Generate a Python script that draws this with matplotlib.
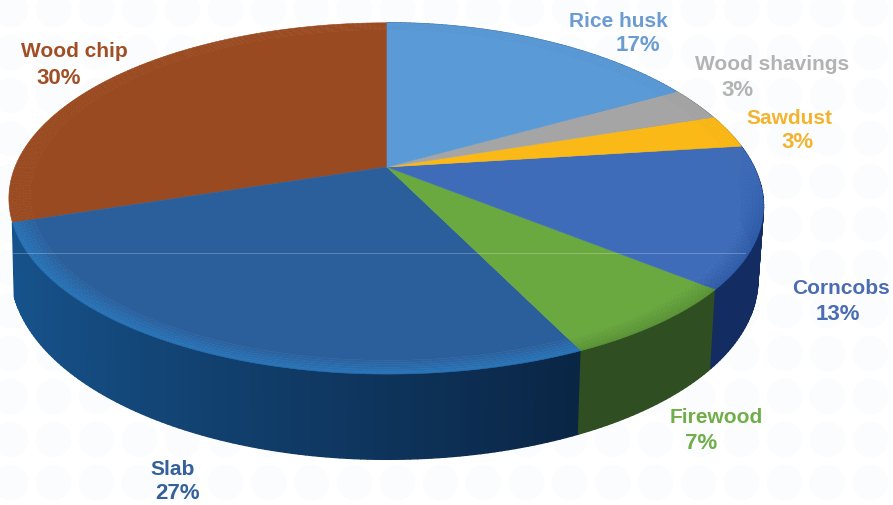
import numpy as np
import matplotlib
matplotlib.use('Agg')
import matplotlib.pyplot as plt
from matplotlib.collections import PolyCollection
from matplotlib.colors import to_rgb

# Slices, anticlockwise from the top of the disc
names = ['Wood chip', 'Slab', 'Firewood', 'Corncobs', 'Sawdust', 'Wood shavings', 'Rice husk']
shares = [30, 27, 7, 13, 3, 3, 17]
top_colors = ['#9a4a20', '#2a5f9c', '#6aa93f', '#3f6cb9', '#fbb917', '#a5a5a5', '#5a9ad6']
side_colors = ['#7a3a18', '#17558f', '#33541f', '#16306e', '#b0820f', '#707070', '#3a6a9c']
rim_colors = ['#9a4a20', '#2872b5', '#5a9436', '#2f5ca8', '#fbb917', '#a5a5a5', '#5a9ad6']
label_colors = ['#a04e24', '#34609c', '#6fae49', '#4a6cb4', '#f4b32e', '#b3b3b3', '#6a9cd2']
side_shade = [0, 0.85, 0.1, 0.2, 0, 0, 0]

# Label anchors in pixels: name line, then percentage line
name_pos = [(74, 51), (173, 470), (716, 418), (841, 288), (789, 118), (772, 64), (618, 21)]
pct_pos = [(59, 78), (178, 494), (701, 444), (838, 314), (797, 142), (737, 90), (638, 45)]

cx, cy = 387, 168
rx_left, rx_right = 372, 367
ry = 170
persp = 0.179
depth = 70
shear = 0.1

plt.rcParams['font.family'] = ['Liberation Sans', 'DejaVu Sans']

fig = plt.figure(figsize=(8.93, 5.06), dpi=100)
ax = fig.add_axes([0, 0, 1, 1])
ax.set_xlim(0, 893)
ax.set_ylim(506, 0)
ax.axis('off')


def project(theta, r=1.0, drop=0.0):
    # theta runs anticlockwise from the back of the disc
    u = -np.sin(theta) * r
    v = np.cos(theta) * r
    w = 1 + persp * v
    rx = np.where(u > 0, rx_right, rx_left)
    shrink = 1 - np.where(u > 0, 0.015, 0.005) * drop
    y = cy - ry * v / w
    # the right half leans over a little in the artwork
    x = cx + rx * u / w * shrink + shear * (y - cy) * np.maximum(u, 0)
    return x, y + drop * depth / w


def mix(col, other, t):
    a = np.array(to_rgb(col))
    b = np.array(to_rgb(other))
    return tuple(a + (b - a) * t)


# faint dotted backdrop
gx, gy = np.meshgrid(np.arange(10, 893, 43), np.arange(10, 506, 43))
ax.scatter(gx.ravel(), gy.ravel(), s=650, color='#fbfcfd', linewidths=0, zorder=0)

edges = np.cumsum([0] + shares) / 100 * 2 * np.pi

# side wall first, then the top covers the back part of it
polys, cols = [], []
for i in range(len(shares)):
    if names[i] == 'Wood chip':
        continue  # its wall does not show in the artwork
    ts = np.linspace(edges[i], edges[i + 1], int(shares[i] * 4) + 2)
    for a, b in zip(ts[:-1], ts[1:]):
        x0, y0 = project(a)
        x1, y1 = project(b)
        x2, y2 = project(b, drop=1)
        x3, y3 = project(a, drop=1)
        u = -np.sin((a + b) / 2)
        # darker toward the right hand side
        dark = np.clip((u + 1) / 1.5, 0, 1) * side_shade[i]
        polys.append([(x0, y0), (x1, y1), (x2, y2), (x3, y3)])
        cols.append(mix(side_colors[i], '#071a33', dark))
ax.add_collection(PolyCollection(polys, facecolors=cols, edgecolors=cols, linewidths=1.0, zorder=2))

# top face with a soft bevel on the front rim
rings = np.linspace(0.945, 1.0, 7)
polys, cols = [], []
for i in range(len(shares)):
    ts = np.linspace(edges[i], edges[i + 1], int(shares[i] * 4) + 2)
    xs, ys = project(ts, 0.945)
    poly = [(cx, cy)] + list(zip(xs, ys))
    polys.append(poly)
    cols.append(to_rgb(top_colors[i]))
    for k in range(len(rings) - 1):
        for a, b in zip(ts[:-1], ts[1:]):
            x0, y0 = project(a, rings[k])
            x1, y1 = project(b, rings[k])
            x2, y2 = project(b, rings[k + 1])
            x3, y3 = project(a, rings[k + 1])
            front = np.clip(-np.cos((a + b) / 2) * 2.5, 0, 1)
            polys.append([(x0, y0), (x1, y1), (x2, y2), (x3, y3)])
            cols.append(mix(top_colors[i], rim_colors[i], front * (k + 1) / (len(rings) - 1)))
ax.add_collection(PolyCollection(polys, facecolors=cols, edgecolors=cols, linewidths=0.4, zorder=3))

# thin seam running across the artwork
ax.plot([13, 745], [254, 254], color='white', lw=0.7, alpha=0.25, zorder=4)

for i in range(len(names)):
    ax.text(name_pos[i][0], name_pos[i][1], names[i], color=label_colors[i], fontsize=15,
            fontweight='bold', ha='center', va='center', zorder=5)
    ax.text(pct_pos[i][0], pct_pos[i][1], f'{shares[i]}%', color=label_colors[i], fontsize=16,
            fontweight='bold', ha='center', va='center', zorder=5)

fig.savefig('out.png', dpi=100)
